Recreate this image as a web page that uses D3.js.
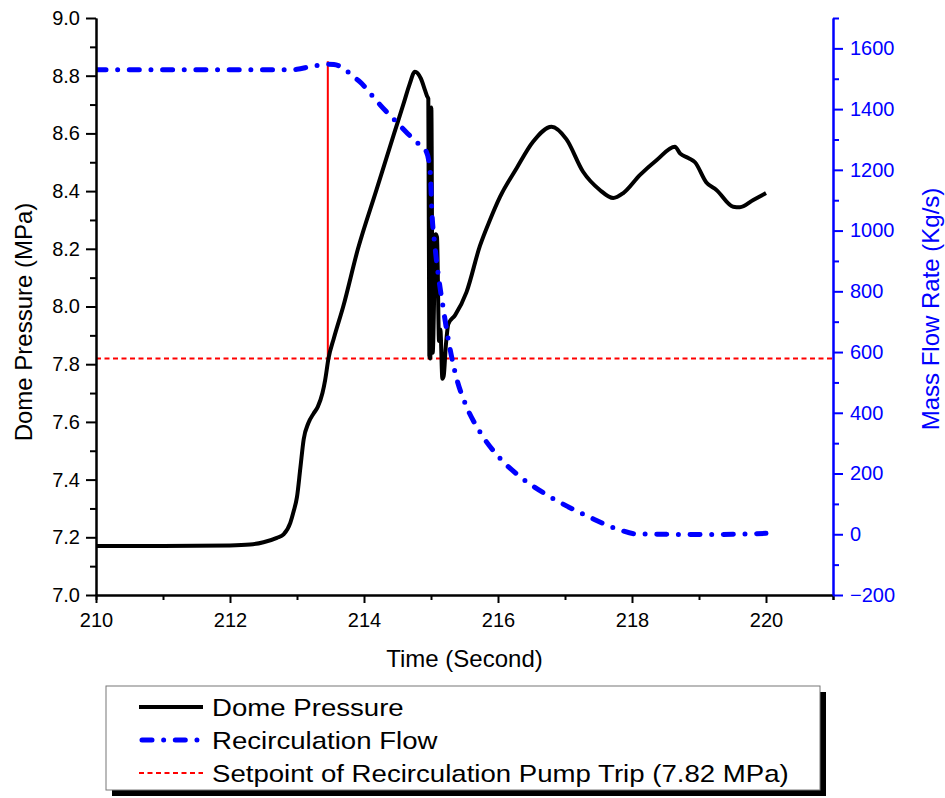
<!DOCTYPE html>
<html>
<head>
<meta charset="utf-8">
<script src="https://cdn.jsdelivr.net/npm/d3@7"></script>
<style>
    body { margin: 0; background: #fff; }
    text { font-family: 'Liberation Sans', Arial, sans-serif; }
</style>
</head>
<body>
<div id="root"></div>
<script>
// dome pressure (MPa) vs time (s)
const pressureTime = [
    210, 211, 212, 212.3, 212.5, 212.7, 212.8, 212.9, 212.95, 213.0, 213.05, 213.1, 213.17,
    213.25, 213.31, 213.38, 213.42, 213.47, 213.55, 213.69, 213.91, 214.18, 214.45, 214.6,
    214.68, 214.76, 214.85, 214.91, 214.94, 214.96, 214.975, 214.99, 215.005, 215.025,
    215.07, 215.09, 215.12, 215.14, 215.17, 215.19, 215.22, 215.26, 215.36, 215.53, 215.73,
    215.88, 216.03, 216.28, 216.52, 216.8, 217.02, 217.27, 217.52, 217.72, 217.87, 218.12,
    218.37, 218.64, 218.72, 218.84, 218.94, 219.11, 219.26, 219.51, 219.61, 219.81, 220.0,
];
const pressureValue = [
    7.17, 7.17, 7.172, 7.175, 7.183, 7.198, 7.21, 7.25, 7.29, 7.34, 7.44, 7.54, 7.596,
    7.63, 7.652, 7.70, 7.745, 7.82, 7.89, 8.0, 8.2, 8.4, 8.6, 8.71,
    8.77, 8.814, 8.79, 8.75, 8.73, 8.72, 7.83, 7.82, 8.69, 7.84,
    8.25, 8.24, 7.88, 7.92, 7.75, 7.76, 7.86, 7.94, 7.97, 8.05, 8.21,
    8.30, 8.38, 8.48, 8.57, 8.623, 8.58, 8.467, 8.404, 8.376, 8.393, 8.456,
    8.508, 8.554, 8.53, 8.515, 8.50, 8.43, 8.404, 8.346, 8.344, 8.369, 8.393,
];

// recirculation mass flow (kg/s) vs time (s)
const flowTime = [
    210, 211, 212, 212.9, 213.0, 213.2, 213.47, 213.55, 213.65, 213.72, 213.85, 213.94, 214.1,
    214.24, 214.46, 214.65, 214.81, 214.93, 214.99, 215.01, 215.06, 215.12, 215.18, 215.26,
    215.38, 215.51, 215.73, 216.03, 216.38, 216.82, 217.37, 217.82, 218.07, 218.5, 219.0,
    219.5, 220.0,
];
const flowValue = [
    1530, 1530, 1530, 1530, 1531, 1540, 1548, 1547, 1540, 1530, 1505, 1490, 1450,
    1414, 1363, 1320, 1286, 1260, 1188, 1077, 946, 836, 748, 639,
    515, 431, 337, 250, 181, 118, 56, 14, 1, 0, -1,
    0, 3,
];

const setpoint = 7.82;          // MPa, recirculation pump trip
const tripTime = 213.46;        // s
const tripTop = 8.85;           // MPa, top of trip marker

const timeTicks = [210, 212, 214, 216, 218, 220];
const pressureTicks = [7.0, 7.2, 7.4, 7.6, 7.8, 8.0, 8.2, 8.4, 8.6, 8.8, 9.0];
const flowTicks = [-200, 0, 200, 400, 600, 800, 1000, 1200, 1400, 1600];

const legendLabels = [
    'Dome Pressure',
    'Recirculation Flow',
    'Setpoint of Recirculation Pump Trip (7.82 MPa)',
];

const width = 945;
const height = 798;
const plot = { left: 96, right: 833, top: 18, bottom: 595 };
const blue = '#0000ff';
const red = '#ff0000';

const svg = d3.select('#root')
    .append('svg')
    .attr('width', width)
    .attr('height', height)
    .attr('viewBox', [0, 0, width, height]);

const x = d3.scaleLinear().domain([210, 221]).range([plot.left, plot.right]);
const y = d3.scaleLinear().domain([7, 9]).range([plot.bottom, plot.top]);
const y2 = d3.scaleLinear().domain([-200, 1700]).range([plot.bottom, plot.top]);

svg.append('clipPath')
    .attr('id', 'clip')
    .append('rect')
    .attr('x', plot.left)
    .attr('y', plot.top - 10)
    .attr('width', plot.right - plot.left)
    .attr('height', plot.bottom - plot.top + 10);

const body = svg.append('g').attr('clip-path', 'url(#clip)');

// setpoint line + trip marker
body.append('line')
    .attr('x1', x(210)).attr('x2', x(221))
    .attr('y1', y(setpoint)).attr('y2', y(setpoint))
    .attr('stroke', red)
    .attr('stroke-width', 2)
    .attr('stroke-dasharray', '5,3.5');

body.append('line')
    .attr('x1', x(tripTime)).attr('x2', x(tripTime))
    .attr('y1', y(setpoint)).attr('y2', y(tripTop))
    .attr('stroke', red)
    .attr('stroke-width', 2);

const pressureLine = d3.line()
    .x((d, k) => x(pressureTime[k]))
    .y(d => y(d))
    .curve(d3.curveMonotoneX);

const flowLine = d3.line()
    .x((d, k) => x(flowTime[k]))
    .y(d => y2(d))
    .curve(d3.curveMonotoneX);

body.append('path')
    .attr('d', pressureLine(pressureValue))
    .attr('fill', 'none')
    .attr('stroke', '#000')
    .attr('stroke-width', 4)
    .attr('stroke-linejoin', 'round');

body.append('path')
    .attr('d', flowLine(flowValue))
    .attr('fill', 'none')
    .attr('stroke', blue)
    .attr('stroke-width', 5)
    .attr('stroke-linecap', 'round')
    .attr('stroke-dasharray', '10,11.65,0,11.65');

// axes
function styleAxis(g, color) {
    g.select('.domain').attr('stroke', color).attr('stroke-width', 2);
    g.selectAll('.tick line').attr('stroke', color).attr('stroke-width', 2);
    g.selectAll('.tick text')
        .attr('fill', color)
        .style('font-size', '20px')
        .style('font-family', "'Liberation Sans', Arial, sans-serif");
}

const minor = (lo, hi, step, skip) => d3.range(lo, hi + step / 2, step)
    .filter(v => !skip.some(s => Math.abs(s - v) < step / 10));

svg.append('g')
    .attr('transform', `translate(0,${plot.bottom})`)
    .call(d3.axisBottom(x).tickValues(minor(210, 221, 1, timeTicks)).tickSize(5).tickFormat(''))
    .call(g => styleAxis(g, '#000'));
svg.append('g')
    .attr('transform', `translate(0,${plot.bottom})`)
    .call(d3.axisBottom(x).tickValues(timeTicks).tickSize(8).tickSizeOuter(0).tickPadding(10))
    .call(g => styleAxis(g, '#000'));

svg.append('g')
    .attr('transform', `translate(${plot.left},0)`)
    .call(d3.axisLeft(y).tickValues(minor(7, 9, 0.1, pressureTicks)).tickSize(6).tickSizeOuter(0).tickFormat(''))
    .call(g => styleAxis(g, '#000'));
svg.append('g')
    .attr('transform', `translate(${plot.left},0)`)
    .call(d3.axisLeft(y).tickValues(pressureTicks).tickSize(10).tickSizeOuter(0).tickPadding(6).tickFormat(d3.format('.1f')))
    .call(g => styleAxis(g, '#000'));

svg.append('g')
    .attr('transform', `translate(${plot.right},0)`)
    .call(d3.axisRight(y2).tickValues(minor(-200, 1700, 100, flowTicks)).tickSize(6).tickSizeOuter(0).tickFormat(''))
    .call(g => styleAxis(g, blue));
svg.append('g')
    .attr('transform', `translate(${plot.right},0)`)
    .call(d3.axisRight(y2).tickValues(flowTicks).tickSize(10).tickSizeOuter(0).tickPadding(7).tickFormat(d3.format('d')))
    .call(g => styleAxis(g, blue));

// axis titles
svg.append('text')
    .attr('x', (plot.left + plot.right) / 2)
    .attr('y', 667)
    .attr('text-anchor', 'middle')
    .style('font-size', '24px')
    .text('Time (Second)');

svg.append('text')
    .attr('transform', 'translate(32,322) rotate(-90)')
    .attr('text-anchor', 'middle')
    .style('font-size', '24px')
    .text('Dome Pressure (MPa)');

svg.append('text')
    .attr('transform', 'translate(939,309) rotate(-90)')
    .attr('text-anchor', 'middle')
    .attr('fill', blue)
    .style('font-size', '24px')
    .text('Mass Flow Rate (Kg/s)');

// legend
const legend = svg.append('g');
legend.append('rect')
    .attr('x', 112).attr('y', 692)
    .attr('width', 714).attr('height', 104)
    .attr('fill', '#000');
legend.append('rect')
    .attr('x', 106).attr('y', 686)
    .attr('width', 714).attr('height', 104)
    .attr('fill', '#fff')
    .attr('stroke', '#777')
    .attr('stroke-width', 1);

const legendStyles = [
    { stroke: '#000', width: 4, dash: null, cap: 'butt' },
    { stroke: blue, width: 5, dash: '10,11.65,0,11.65', cap: 'round' },
    { stroke: red, width: 2, dash: '5,3.5', cap: 'butt' },
];

legendLabels.forEach((label, k) => {
    const ly = 707 + k * 33;
    const s = legendStyles[k];
    legend.append('line')
        .attr('x1', k === 1 ? 142 : 139).attr('x2', 203)
        .attr('y1', ly).attr('y2', ly)
        .attr('stroke', s.stroke)
        .attr('stroke-width', s.width)
        .attr('stroke-linecap', s.cap)
        .attr('stroke-dasharray', s.dash);
    legend.append('text')
        .attr('transform', `translate(212,${ly + 9}) scale(1.15,1)`)
        .style('font-size', '24px')
        .text(label);
});
</script>
</body>
</html>
